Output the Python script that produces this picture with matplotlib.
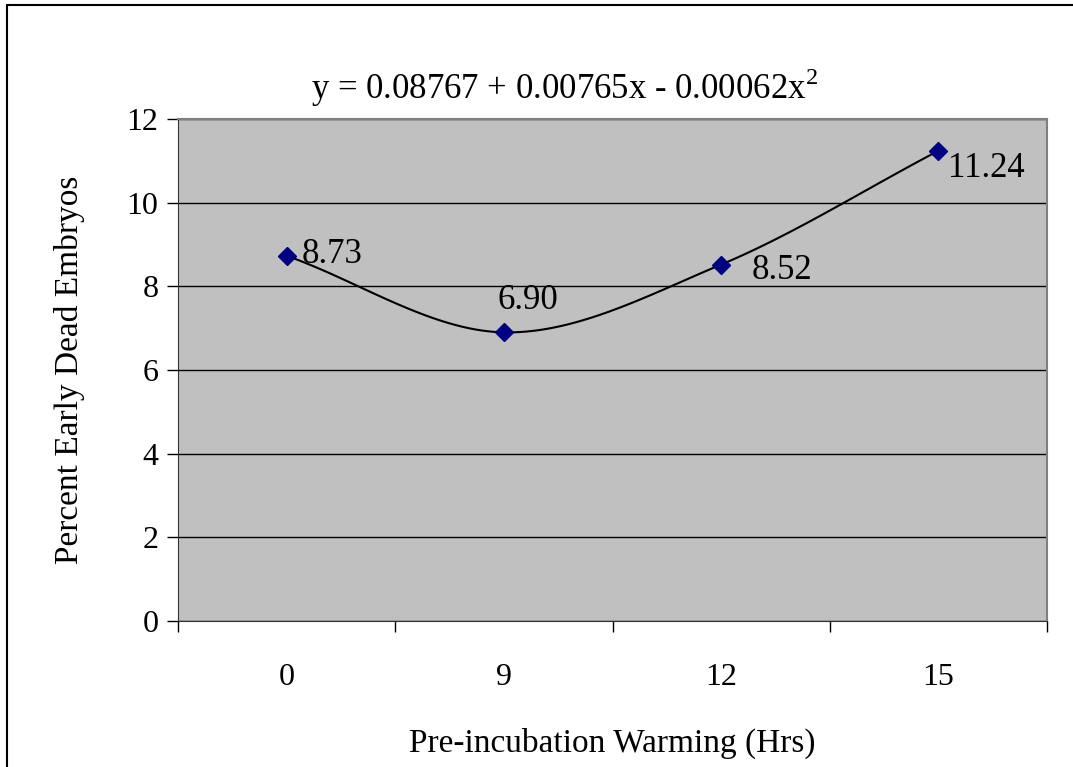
import numpy as np
import matplotlib.pyplot as plt
from matplotlib.patches import Rectangle

# Chart data
hours = ['0', '9', '12', '15']
percent_dead = [8.73, 6.90, 8.52, 11.24]
point_labels = ['8.73', '6.90', '8.52', '11.24']
# label offsets in points (dx, dy)
label_offsets = [(11, 1), (17, 23), (22, -4), (7, -13)]
y_ticks = [0, 2, 4, 6, 8, 10, 12]

plt.rcParams['font.family'] = ['Liberation Serif', 'DejaVu Serif']
plt.rcParams['mathtext.fontset'] = 'custom'
plt.rcParams['mathtext.rm'] = 'Liberation Serif'


# Catmull-Rom style smoothing, similar to Excel's smoothed line
def smooth_line(x, y, n=40):
    x = np.asarray(x, float)
    y = np.asarray(y, float)
    px = np.concatenate([[2 * x[0] - x[1]], x, [2 * x[-1] - x[-2]]])
    py = np.concatenate([[2 * y[0] - y[1]], y, [2 * y[-1] - y[-2]]])
    xs, ys = [], []
    for i in range(1, len(px) - 2):
        t = np.linspace(0, 1, n)
        for arr, out in ((px, xs), (py, ys)):
            p0, p1, p2, p3 = arr[i - 1], arr[i], arr[i + 1], arr[i + 2]
            out.extend(0.5 * ((2 * p1) + (-p0 + p2) * t
                              + (2 * p0 - 5 * p1 + 4 * p2 - p3) * t ** 2
                              + (-p0 + 3 * p1 - 3 * p2 + p3) * t ** 3))
    return np.array(xs), np.array(ys)


fig = plt.figure(figsize=(10.73, 7.67), dpi=100)
ax = fig.add_axes([178 / 1073, 1 - 621 / 767, 869 / 1073, 502 / 767])
ax.set_facecolor('#C0C0C0')

xpos = np.arange(len(hours)) + 0.5
sx, sy = smooth_line(xpos, percent_dead)
ax.plot(sx, sy, color='black', lw=1.5, zorder=3)
ax.plot(xpos, percent_dead, 'D', color='#000080', ms=9, zorder=4)

for x, y, lab, (dx, dy) in zip(xpos, percent_dead, point_labels, label_offsets):
    ax.annotate(lab, (x, y), xytext=(dx, dy), textcoords='offset points',
                ha='left' if lab != '6.90' else 'center', va='center',
                fontsize=25, zorder=5)

ax.set_xlim(0, len(hours))
ax.set_ylim(0, 12)
ax.set_yticks(y_ticks)
ax.set_xticks(np.arange(len(hours) + 1))
ax.set_xticklabels([])
ax.set_xticks(xpos, minor=True)
ax.set_xticklabels(hours, minor=True)
ax.tick_params(axis='x', which='major', direction='out', length=8, width=1)
ax.tick_params(axis='x', which='minor', length=0, pad=30, labelsize=23)
ax.tick_params(axis='y', direction='out', length=8, width=1, labelsize=23, pad=6)
ax.yaxis.grid(True, color='black', lw=1)
ax.set_axisbelow(True)

for side in ['top', 'right']:
    ax.spines[side].set_color('#808080')
    ax.spines[side].set_linewidth(1.5)
ax.spines['left'].set_color('#333333')
ax.spines['bottom'].set_color('#333333')

ax.set_ylabel('Percent Early Dead Embryos', fontsize=24, labelpad=30)
ax.set_xlabel('Pre-incubation Warming (Hrs)', fontsize=24, labelpad=26)

fig.text(565 / 1073, 1 - 88 / 767, r'y = 0.08767 + 0.00765x - 0.00062x$^{2}$',
         ha='center', va='center', fontsize=25)

# outer chart border (cut off at right and bottom)
fig.patches.append(Rectangle((7 / 1073, -0.05), 1.1, 1 - 5 / 767 + 0.05,
                             transform=fig.transFigure, fill=False,
                             edgecolor='black', lw=1.5))

fig.savefig('out.png', dpi=100)
